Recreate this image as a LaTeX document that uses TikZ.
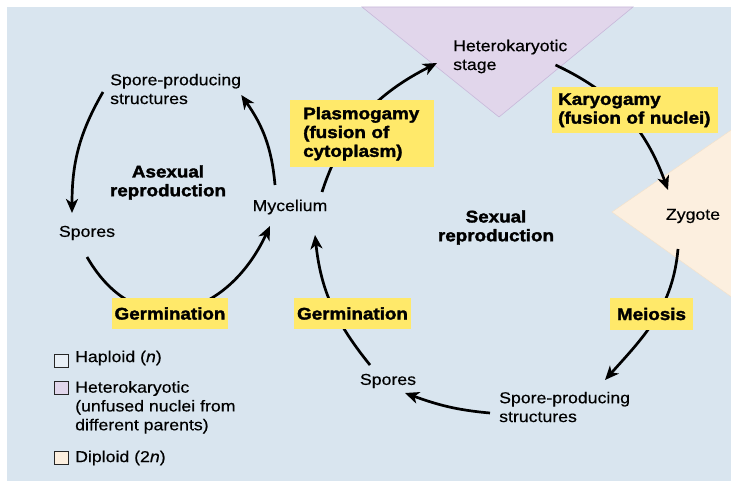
\documentclass[tikz,border=0pt]{standalone}
\usepackage{fontspec}
\setmainfont{Liberation Sans}[FakeStretch=1.12, UprightFeatures={FakeBold=0.4}, ItalicFeatures={FakeBold=0.4}, BoldFeatures={FakeBold=2}]
\usetikzlibrary{arrows.meta}
\definecolor{bgblue}{HTML}{D9E5EF}
\definecolor{yel}{HTML}{FFE96A}
\definecolor{lav}{HTML}{E1D6EB}
\definecolor{lavedge}{HTML}{C8B8DA}
\definecolor{peach}{HTML}{FCEFDF}
\definecolor{peachedge}{HTML}{F2E2CC}
\definecolor{hapl}{HTML}{E8EFF6}
\pgfdeclarelayer{bg}
\pgfdeclarelayer{arrlayer}
\pgfsetlayers{bg,arrlayer,main}
\tikzset{
  lbl/.style={font=\fontsize{15.8}{18.8}\selectfont, inner sep=0pt, align=left},
  blbl/.style={font=\fontsize{16.8}{18.8}\selectfont\bfseries, inner sep=0pt, align=center},
  ybox/.style={fill=yel, font=\fontsize{16.8}{18.8}\selectfont\bfseries, inner sep=0pt, align=left},
  arr/.style={line width=2.7pt, -{Stealth[length=14pt,width=12pt,inset=4pt]}},
  lgbox/.style={draw=black!85, line width=0.8pt, minimum width=14pt, minimum height=13pt, inner sep=0pt},
}
\begin{document}
\begin{tikzpicture}[x=1pt,y=1pt]
\useasboundingbox (0,0) rectangle (731,-481);
\begin{pgfonlayer}{bg}
  \fill[bgblue] (7,-7) rectangle (740,-490);
  \filldraw[fill=lav, draw=lavedge, line width=0.6pt] (362,-7) -- (633,-7) -- (499,-117) -- cycle;
  \filldraw[fill=peach, draw=peachedge, line width=0.5pt] (740,-124) -- (612,-212) -- (740,-303);
\end{pgfonlayer}

% nodes
\node[lbl, anchor=west] (het) at (453,-56.5) {Heterokaryotic\\stage};
\node[ybox, anchor=north west, text width=154pt, inner xsep=6pt, minimum height=46pt] (karyo) at (552,-87) {Karyogamy\\(fusion of nuclei)};
\node[ybox, anchor=north west, text width=118pt, inner xsep=13pt, minimum height=67pt] (plasmo) at (290,-100) {Plasmogamy\\(fusion of\\cytoplasm)};
\node[lbl] (zyg) at (693,-216) {Zygote};
\node[blbl] (sex) at (496,-227.5) {Sexual\\reproduction};
\node[lbl] (myc) at (290,-207) {Mycelium};
\node[blbl] (asex) at (168,-182.5) {Asexual\\reproduction};
\node[lbl, anchor=west] (spTL) at (110,-89) {Spore-producing\\structures};
\node[lbl] (spL) at (87,-233) {Spores};
\node[ybox, align=center, minimum width=116pt, minimum height=31pt] (germL) at (170,-313.5) {Germination};
\node[ybox, align=center, minimum width=117pt, minimum height=31pt] (germM) at (352.5,-313.5) {Germination};
\node[ybox, align=center, minimum width=83pt, minimum height=32pt] (mei) at (651.5,-314) {Meiosis};
\node[lbl] (spM) at (388,-381) {Spores};
\node[lbl, anchor=west] (spB) at (499,-407) {Spore-producing\\structures};

% legend
\node[lgbox, fill=hapl] (lg1) at (61.5,-360.5) {};
\node[lbl, anchor=west] (lt1) at (75,-358) {Haploid (\textit{n})};
\node[lgbox, fill=lav] (lg2) at (61.5,-387.5) {};
\node[lbl, anchor=north west] (lt2) at (75,-381) {Heterokaryotic\\(unfused nuclei from\\different parents)};
\node[lgbox, fill=peach] (lg3) at (61.5,-458) {};
\node[lbl, anchor=west] (lt3) at (75,-458) {Diploid (2\textit{n})};

% arrows
\begin{pgfonlayer}{arrlayer}
  \draw[arr] ([shift={(-7,-3)}]spTL.west) to[out=-120,in=90] ([shift={(-15,20)}]spL.center);
  \draw[arr] ([shift={(0,-24)}]spL.center) to[out=-60,in=-115,looseness=1.4] ([shift={(-20,-19)}]myc.center);
  \draw[arr] ([shift={(-15,22)}]myc.center) to[out=95,in=-55] ([yshift=-6pt]spTL.east);
  \draw[arr] ([shift={(32,15)}]myc.center) to[out=72,in=-153] ([shift={(-16,-6.5)}]het.west);
  \draw[arr] ([shift={(-12,-8.5)}]het.east) to[out=-25,in=110] ([shift={(-25,26)}]zyg.center);
  \draw[arr] ([shift={(-15,-33)}]zyg.center) to[out=-95,in=48] ([shift={(106,27)}]spB.west);
  \draw[arr] ([shift={(-9,-6)}]spB.west) to[out=175,in=-20] ([shift={(17,-12)}]spM.center);
  \draw[arr] ([shift={(-18,16)}]spM.center) to[out=129,in=-84] ([shift={(25,-28)}]myc.center);
\end{pgfonlayer}
\end{tikzpicture}
\end{document}
